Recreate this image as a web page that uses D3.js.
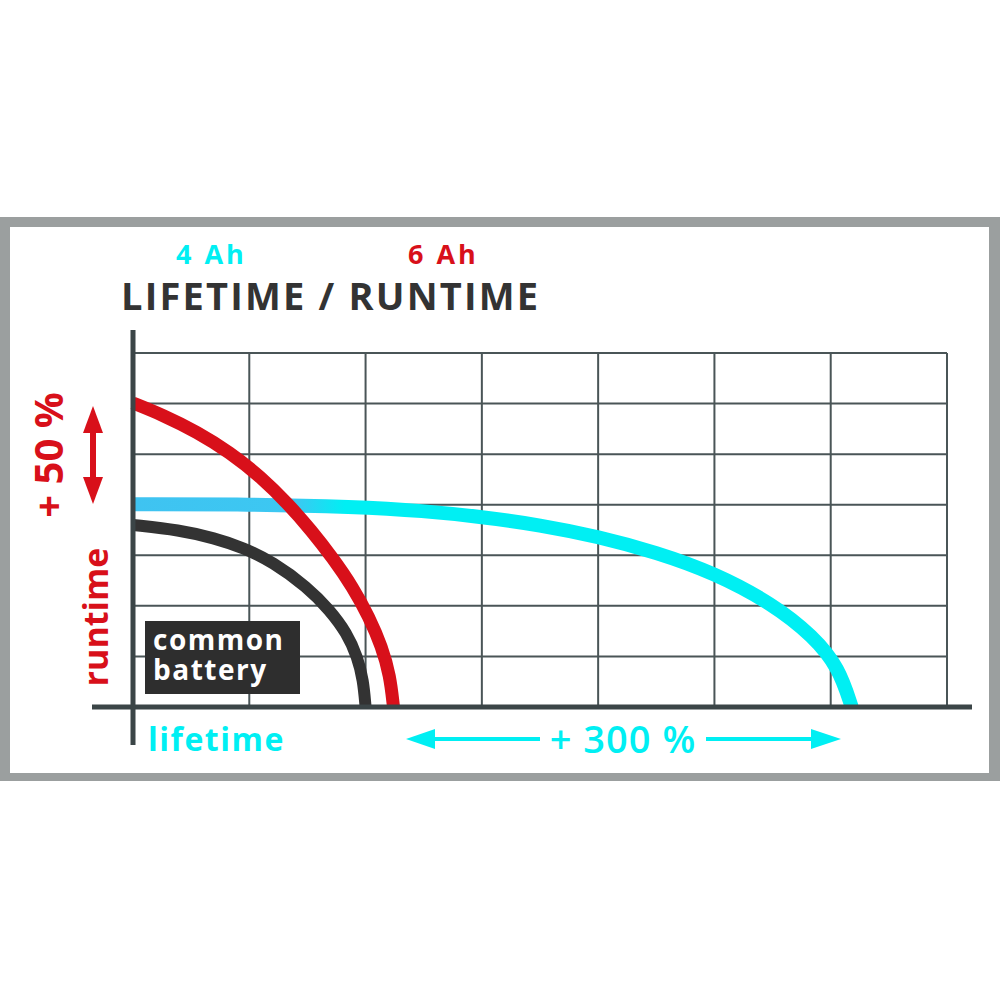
<!DOCTYPE html>
<html>
<head>
<meta charset="utf-8">
<script src="https://cdn.jsdelivr.net/npm/d3@7"></script>
<style>
  html, body { margin: 0; padding: 0; background: #fff; }
  svg { display: block; font-family: "Open Sans", sans-serif; }
</style>
</head>
<body>
<svg id="chart" width="1000" height="1000"></svg>
<script>
// grid units: 7 columns (lifetime) x 7 rows (runtime)
var gridTicks = [0, 1, 2, 3, 4, 5, 6, 7];

// curves in grid units
var commonBattery = [
  [0, 3.60], [0.40, 3.50], [0.70, 3.34], [0.95, 3.15], [1.20, 2.87],
  [1.50, 2.37], [1.69, 1.92], [1.84, 1.46], [1.93, 0.99], [1.98, 0.53],
  [2.00, 0]
];
var battery6Ah = [
  [0, 6.01], [0.26, 5.77], [0.55, 5.44], [0.83, 5.04], [1.10, 4.55],
  [1.34, 4.00], [1.53, 3.50], [1.72, 2.94], [1.89, 2.37], [2.03, 1.78],
  [2.14, 1.19], [2.21, 0.62], [2.24, 0]
];
var battery4Ah = [
  [0, 4.01], [1.00, 4.01], [1.90, 3.96], [2.50, 3.88], [3.00, 3.76],
  [3.50, 3.60], [4.00, 3.37], [4.50, 3.06], [5.00, 2.65], [5.50, 2.04],
  [5.85, 1.40], [6.07, 0.78], [6.18, 0]
];

var labels4Ah = "4 Ah";
var labels6Ah = "6 Ah";
var titleText = "LIFETIME / RUNTIME";
var yLabel = "runtime";
var xLabel = "lifetime";
var runtimeGain = "+ 50 %";
var lifetimeGain = "+ 300 %";
var boxLines = ["common", "battery"];

var red = "#d8101a";
var cyan = "#00eff3";
var dark = "#333333";
var gridColor = "#4a5557";

var svg = d3.select("#chart");

// frame
svg.append("rect").attr("x", 0).attr("y", 217).attr("width", 1000).attr("height", 564).attr("fill", "#9b9f9f");
svg.append("rect").attr("x", 10).attr("y", 227).attr("width", 979).attr("height", 546).attr("fill", "#ffffff");

var x = d3.scaleLinear().domain([0, 7]).range([133, 947]);
var y = d3.scaleLinear().domain([0, 7]).range([707, 353]);

// grid
var grid = svg.append("g");
grid.selectAll("line.h")
  .data(gridTicks.slice(1))
  .join("line")
  .attr("class", "h")
  .attr("x1", x(0)).attr("x2", x(7))
  .attr("y1", d => y(d)).attr("y2", d => y(d))
  .attr("stroke", gridColor).attr("stroke-width", 2);
grid.selectAll("line.v")
  .data(gridTicks.slice(1))
  .join("line")
  .attr("class", "v")
  .attr("x1", d => x(d)).attr("x2", d => x(d))
  .attr("y1", y(0)).attr("y2", y(7))
  .attr("stroke", gridColor).attr("stroke-width", 2);

// cyan gradient (bluer at the left)
var defs = svg.append("defs");
var grad = defs.append("linearGradient")
  .attr("id", "cyanGrad")
  .attr("gradientUnits", "userSpaceOnUse")
  .attr("x1", x(0)).attr("x2", x(7)).attr("y1", 0).attr("y2", 0);
grad.append("stop").attr("offset", "0").attr("stop-color", "#3fc3f1");
grad.append("stop").attr("offset", "0.2").attr("stop-color", "#3cc8f2");
grad.append("stop").attr("offset", "0.26").attr("stop-color", cyan);
grad.append("stop").attr("offset", "1").attr("stop-color", cyan);

var line = d3.line()
  .x(d => x(d[0]))
  .y(d => y(d[1]))
  .curve(d3.curveBasis);

svg.append("path").datum(commonBattery)
  .attr("d", line).attr("fill", "none")
  .attr("stroke", dark).attr("stroke-width", 12);
svg.append("path").datum(battery4Ah)
  .attr("d", line).attr("fill", "none")
  .attr("stroke", "url(#cyanGrad)").attr("stroke-width", 14);
svg.append("path").datum(battery6Ah)
  .attr("d", line).attr("fill", "none")
  .attr("stroke", red).attr("stroke-width", 13);

// axes
svg.append("line")
  .attr("x1", 92).attr("x2", 972)
  .attr("y1", y(0)).attr("y2", y(0))
  .attr("stroke", "#3b4547").attr("stroke-width", 5);
svg.append("line")
  .attr("x1", x(0)).attr("x2", x(0))
  .attr("y1", 330).attr("y2", 745)
  .attr("stroke", "#3b4547").attr("stroke-width", 5);

// common battery box
svg.append("rect")
  .attr("x", 145).attr("y", 621).attr("width", 155).attr("height", 73)
  .attr("fill", "#2e2e2e");
svg.append("g").selectAll("text")
  .data(boxLines)
  .join("text")
  .attr("x", 153)
  .attr("y", (d, i) => 650 + i * 30)
  .attr("fill", "#ffffff")
  .attr("font-size", 28)
  .attr("font-weight", 700)
  .attr("letter-spacing", 1.5)
  .text(d => d);

// title and legend
svg.append("text")
  .attr("x", 121).attr("y", 310)
  .attr("fill", dark)
  .attr("font-size", 38).attr("font-weight", 700)
  .attr("letter-spacing", 2.2)
  .text(titleText);
svg.append("text")
  .attr("x", 176).attr("y", 264)
  .attr("fill", cyan)
  .attr("font-size", 27).attr("font-weight", 700)
  .attr("letter-spacing", 3)
  .text(labels4Ah);
svg.append("text")
  .attr("x", 408).attr("y", 264)
  .attr("fill", red)
  .attr("font-size", 27).attr("font-weight", 700)
  .attr("letter-spacing", 3)
  .text(labels6Ah);

// axis labels
svg.append("text")
  .attr("transform", "translate(108,617) rotate(-90)")
  .attr("text-anchor", "middle")
  .attr("fill", red)
  .attr("font-size", 34).attr("font-weight", 700)
  .text(yLabel);
svg.append("text")
  .attr("x", 148).attr("y", 751)
  .attr("fill", cyan)
  .attr("font-size", 32).attr("font-weight", 700)
  .attr("letter-spacing", 1.5)
  .text(xLabel);

// + 50 % with double arrow
svg.append("text")
  .attr("transform", "translate(63,455) rotate(-90)")
  .attr("text-anchor", "middle")
  .attr("fill", red)
  .attr("font-size", 40).attr("font-weight", 700)
  .text(runtimeGain);

function arrowHead(g, tipX, tipY, dx, dy, len, half, color) {
  // dx,dy: unit direction the arrow points to
  var bx = tipX - dx * len, by = tipY - dy * len;
  var px = -dy, py = dx;
  g.append("path")
    .attr("d", "M" + tipX + "," + tipY +
      "L" + (bx + px * half) + "," + (by + py * half) +
      "L" + (bx - px * half) + "," + (by - py * half) + "Z")
    .attr("fill", color);
}

var redArrow = svg.append("g");
redArrow.append("line")
  .attr("x1", 93).attr("x2", 93).attr("y1", 425).attr("y2", 485)
  .attr("stroke", red).attr("stroke-width", 6);
arrowHead(redArrow, 93, 406, 0, -1, 27, 10, red);
arrowHead(redArrow, 93, 504, 0, 1, 27, 10, red);

// + 300 % with arrows
var cyanArrow = svg.append("g");
cyanArrow.append("line")
  .attr("x1", 430).attr("x2", 540).attr("y1", 739).attr("y2", 739)
  .attr("stroke", cyan).attr("stroke-width", 4);
cyanArrow.append("line")
  .attr("x1", 706).attr("x2", 816).attr("y1", 739).attr("y2", 739)
  .attr("stroke", cyan).attr("stroke-width", 4);
arrowHead(cyanArrow, 406, 739, -1, 0, 29, 10, cyan);
arrowHead(cyanArrow, 841, 739, 1, 0, 30, 10, cyan);
svg.append("text")
  .attr("x", 623).attr("y", 753)
  .attr("text-anchor", "middle")
  .attr("fill", cyan)
  .attr("font-size", 38).attr("font-weight", 600)
  .attr("letter-spacing", 1)
  .text(lifetimeGain);
</script>
</body>
</html>
